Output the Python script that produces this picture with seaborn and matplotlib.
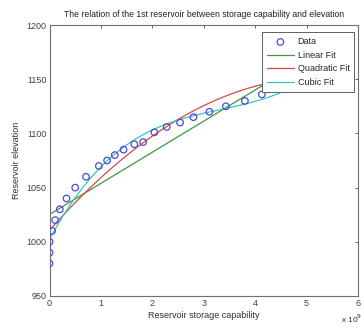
import numpy as np
import pandas as pd
import matplotlib
matplotlib.use("Agg")
import matplotlib.pyplot as plt
import seaborn as sns

# Storage capability (units of 1e9) and measured elevation of the 1st reservoir
storage = [0.0, 0.0, 0.0, 0.05, 0.11, 0.20, 0.33, 0.50, 0.71, 0.96, 1.12, 1.27,
           1.44, 1.65, 1.82, 2.04, 2.28, 2.54, 2.80, 3.11, 3.43, 3.80, 4.13,
           4.60, 5.10, 5.60]
elevation = [980, 990, 1000, 1010, 1020, 1030, 1040, 1050, 1060, 1070, 1075, 1080,
             1085, 1090, 1092, 1101, 1106, 1110, 1115, 1120, 1125, 1130, 1136,
             1142, 1153, 1170]

x_ticks = [0, 1, 2, 3, 4, 5, 6]
y_ticks = [950, 1000, 1050, 1100, 1150, 1200]

sns.set_style("white")
plt.rcParams["font.family"] = ["Liberation Sans", "DejaVu Sans"]

df = pd.DataFrame({"storage": storage, "elevation": elevation})

# polynomial fits of degree 1..3 evaluated on a dense grid
xs = np.linspace(min(storage), max(storage), 200)
fits = []
for deg, name in [(1, "Linear Fit"), (2, "Quadratic Fit"), (3, "Cubic Fit")]:
    coef = np.polyfit(df["storage"], df["elevation"], deg)
    fits.append(pd.DataFrame({"storage": xs, "elevation": np.polyval(coef, xs), "fit": name}))
fit_df = pd.concat(fits, ignore_index=True)

fig = plt.figure(figsize=(3.64, 3.28), dpi=100)
ax = fig.add_axes([0.136, 0.0976, 0.8475, 0.826])

sns.scatterplot(data=df, x="storage", y="elevation", ax=ax, marker="o",
                s=22, facecolor="none", edgecolor="#4a4ad8", linewidth=0.9,
                label="Data", zorder=3)
palette = {"Linear Fit": "#3c9a3c", "Quadratic Fit": "#d24a4a", "Cubic Fit": "#38c4c4"}
sns.lineplot(data=fit_df, x="storage", y="elevation", hue="fit", palette=palette,
             ax=ax, linewidth=0.9, zorder=2, sort=False)

ax.set_xlim(0, 6)
ax.set_ylim(950, 1200)
ax.set_xticks(x_ticks)
ax.set_yticks(y_ticks)
ax.tick_params(direction="in", length=2.5, width=0.6, labelsize=6.5,
               top=True, right=True, labeltop=False, labelright=False,
               colors="#404040", pad=2)
for sp in ax.spines.values():
    sp.set_color("#707070")
    sp.set_linewidth(0.8)

ax.set_xlabel("Reservoir storage capability", fontsize=6.5, color="#303030", labelpad=2)
ax.set_ylabel("Reservoir elevation", fontsize=6.5, color="#303030", labelpad=4)
ax.set_title("The relation of the 1st reservoir between storage capability and elevation",
             fontsize=6.2, color="#202020", pad=6)
fig.text(0.965, 0.015, r"x 10$^9$", fontsize=6, color="#303030", ha="center")

handles, labels = ax.get_legend_handles_labels()
leg = ax.legend(handles, labels, loc="upper right", fontsize=6.5, frameon=True,
                fancybox=False, framealpha=1, edgecolor="#606060",
                borderpad=0.55, handlelength=3.0, labelspacing=0.5,
                handletextpad=0.4, borderaxespad=0.3,
                bbox_to_anchor=(0.997, 0.983))
leg.set_zorder(5)
leg.get_frame().set_linewidth(0.7)

fig.savefig("out.png", dpi=100)
